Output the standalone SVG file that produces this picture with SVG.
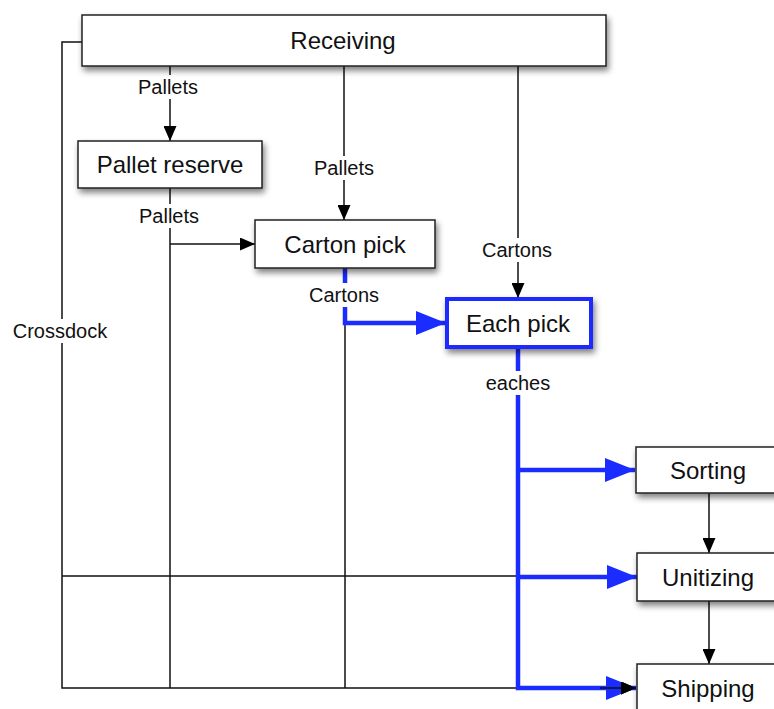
<svg xmlns="http://www.w3.org/2000/svg" width="774" height="709" viewBox="0 0 774 709">
<defs>
<filter id="sh" x="-10%" y="-20%" width="130%" height="160%">
<feGaussianBlur in="SourceAlpha" stdDeviation="3"/>
<feOffset dx="2" dy="4"/>
<feComponentTransfer><feFuncA type="linear" slope="0.5"/></feComponentTransfer>
<feMerge><feMergeNode/><feMergeNode in="SourceGraphic"/></feMerge>
</filter>
<marker id="ak" viewBox="0 0 15 13" refX="15" refY="6.5" markerWidth="15" markerHeight="13" markerUnits="userSpaceOnUse" orient="auto">
<path d="M0,0 L15,6.5 L0,13 Z" fill="#000"/>
</marker>
<marker id="ab" viewBox="0 0 30 24" refX="30" refY="12" markerWidth="30" markerHeight="24" markerUnits="userSpaceOnUse" orient="auto">
<path d="M0,0 L30,12 L0,24 Z" fill="#1a2cff"/>
</marker>
</defs>
<style>
.box{fill:#fff;stroke:#222;stroke-width:1.5}
.bbox{fill:#fff;stroke:#1a2cff;stroke-width:4}
.nt{font-family:"Liberation Sans",Arial,sans-serif;font-size:24px;fill:#111;text-anchor:middle}
.lt{font-family:"Liberation Sans",Arial,sans-serif;font-size:20px;fill:#111;text-anchor:middle}
.k{fill:none;stroke:#111;stroke-width:1.5}
.b{fill:none;stroke:#1a2cff;stroke-width:4.5}
.lb{fill:#fff}
</style>
<rect width="774" height="709" fill="#fff"/>
<g id="connectors">
<path class="k" d="M82,42 H62 V688 H636" marker-end="url(#ak)"/>
<path class="k" d="M62,576 H636"/>
<path class="k" d="M170,66 V141" marker-end="url(#ak)"/>
<path class="k" d="M170,188 V688"/>
<path class="k" d="M170,244 H255" marker-end="url(#ak)"/>
<path class="k" d="M344,66 V220" marker-end="url(#ak)"/>
<path class="k" d="M345,268 V688"/>
<path class="k" d="M518,66 V298" marker-end="url(#ak)"/>
<path class="k" d="M709,493 V553" marker-end="url(#ak)"/>
<path class="k" d="M709,601 V664" marker-end="url(#ak)"/>
<path class="b" d="M345,268 V323 H446" marker-end="url(#ab)"/>
<path class="b" d="M518,348 V688 H636" marker-end="url(#ab)"/>
<path class="b" d="M518,470 H635" marker-end="url(#ab)"/>
<path class="b" d="M518,577 H637" marker-end="url(#ab)"/>
<path class="k" d="M600,688 H636" marker-end="url(#ak)"/>
<rect class="lb" x="130" y="75" width="80" height="24"/>
<text class="lt" x="168" y="94">Pallets</text>
<rect class="lb" x="130" y="204" width="80" height="24"/>
<text class="lt" x="169" y="223">Pallets</text>
<rect class="lb" x="304" y="156" width="80" height="24"/>
<text class="lt" x="344" y="175">Pallets</text>
<rect class="lb" x="298" y="283" width="94" height="24"/>
<text class="lt" x="344" y="302">Cartons</text>
<rect class="lb" x="471" y="238" width="94" height="24"/>
<text class="lt" x="517" y="257">Cartons</text>
<rect class="lb" x="476" y="371" width="84" height="24"/>
<text class="lt" x="518" y="390">eaches</text>
<rect class="lb" x="6" y="319" width="110" height="24"/>
<text class="lt" x="60" y="338">Crossdock</text>
</g>
<g id="receiving">
<rect class="box" x="82" y="15" width="524" height="51" filter="url(#sh)"/>
<text class="nt" x="343" y="49">Receiving</text>
</g>
<g id="pallet-reserve">
<rect class="box" x="78" y="141" width="184" height="47" filter="url(#sh)"/>
<text class="nt" x="170" y="173">Pallet reserve</text>
</g>
<g id="carton-pick">
<rect class="box" x="255" y="220" width="180" height="48" filter="url(#sh)"/>
<text class="nt" x="345" y="253">Carton pick</text>
</g>
<g id="each-pick">
<rect class="bbox" x="447" y="299" width="144" height="48" filter="url(#sh)"/>
<text class="nt" x="518" y="332">Each pick</text>
</g>
<g id="sorting">
<rect class="box" x="636" y="447" width="146" height="46" filter="url(#sh)"/>
<text class="nt" x="708" y="479">Sorting</text>
</g>
<g id="unitizing">
<rect class="box" x="637" y="553" width="146" height="48" filter="url(#sh)"/>
<text class="nt" x="708" y="586">Unitizing</text>
</g>
<g id="shipping">
<rect class="box" x="637" y="664" width="146" height="60" filter="url(#sh)"/>
<text class="nt" x="708" y="697">Shipping</text>
</g>
</svg>
